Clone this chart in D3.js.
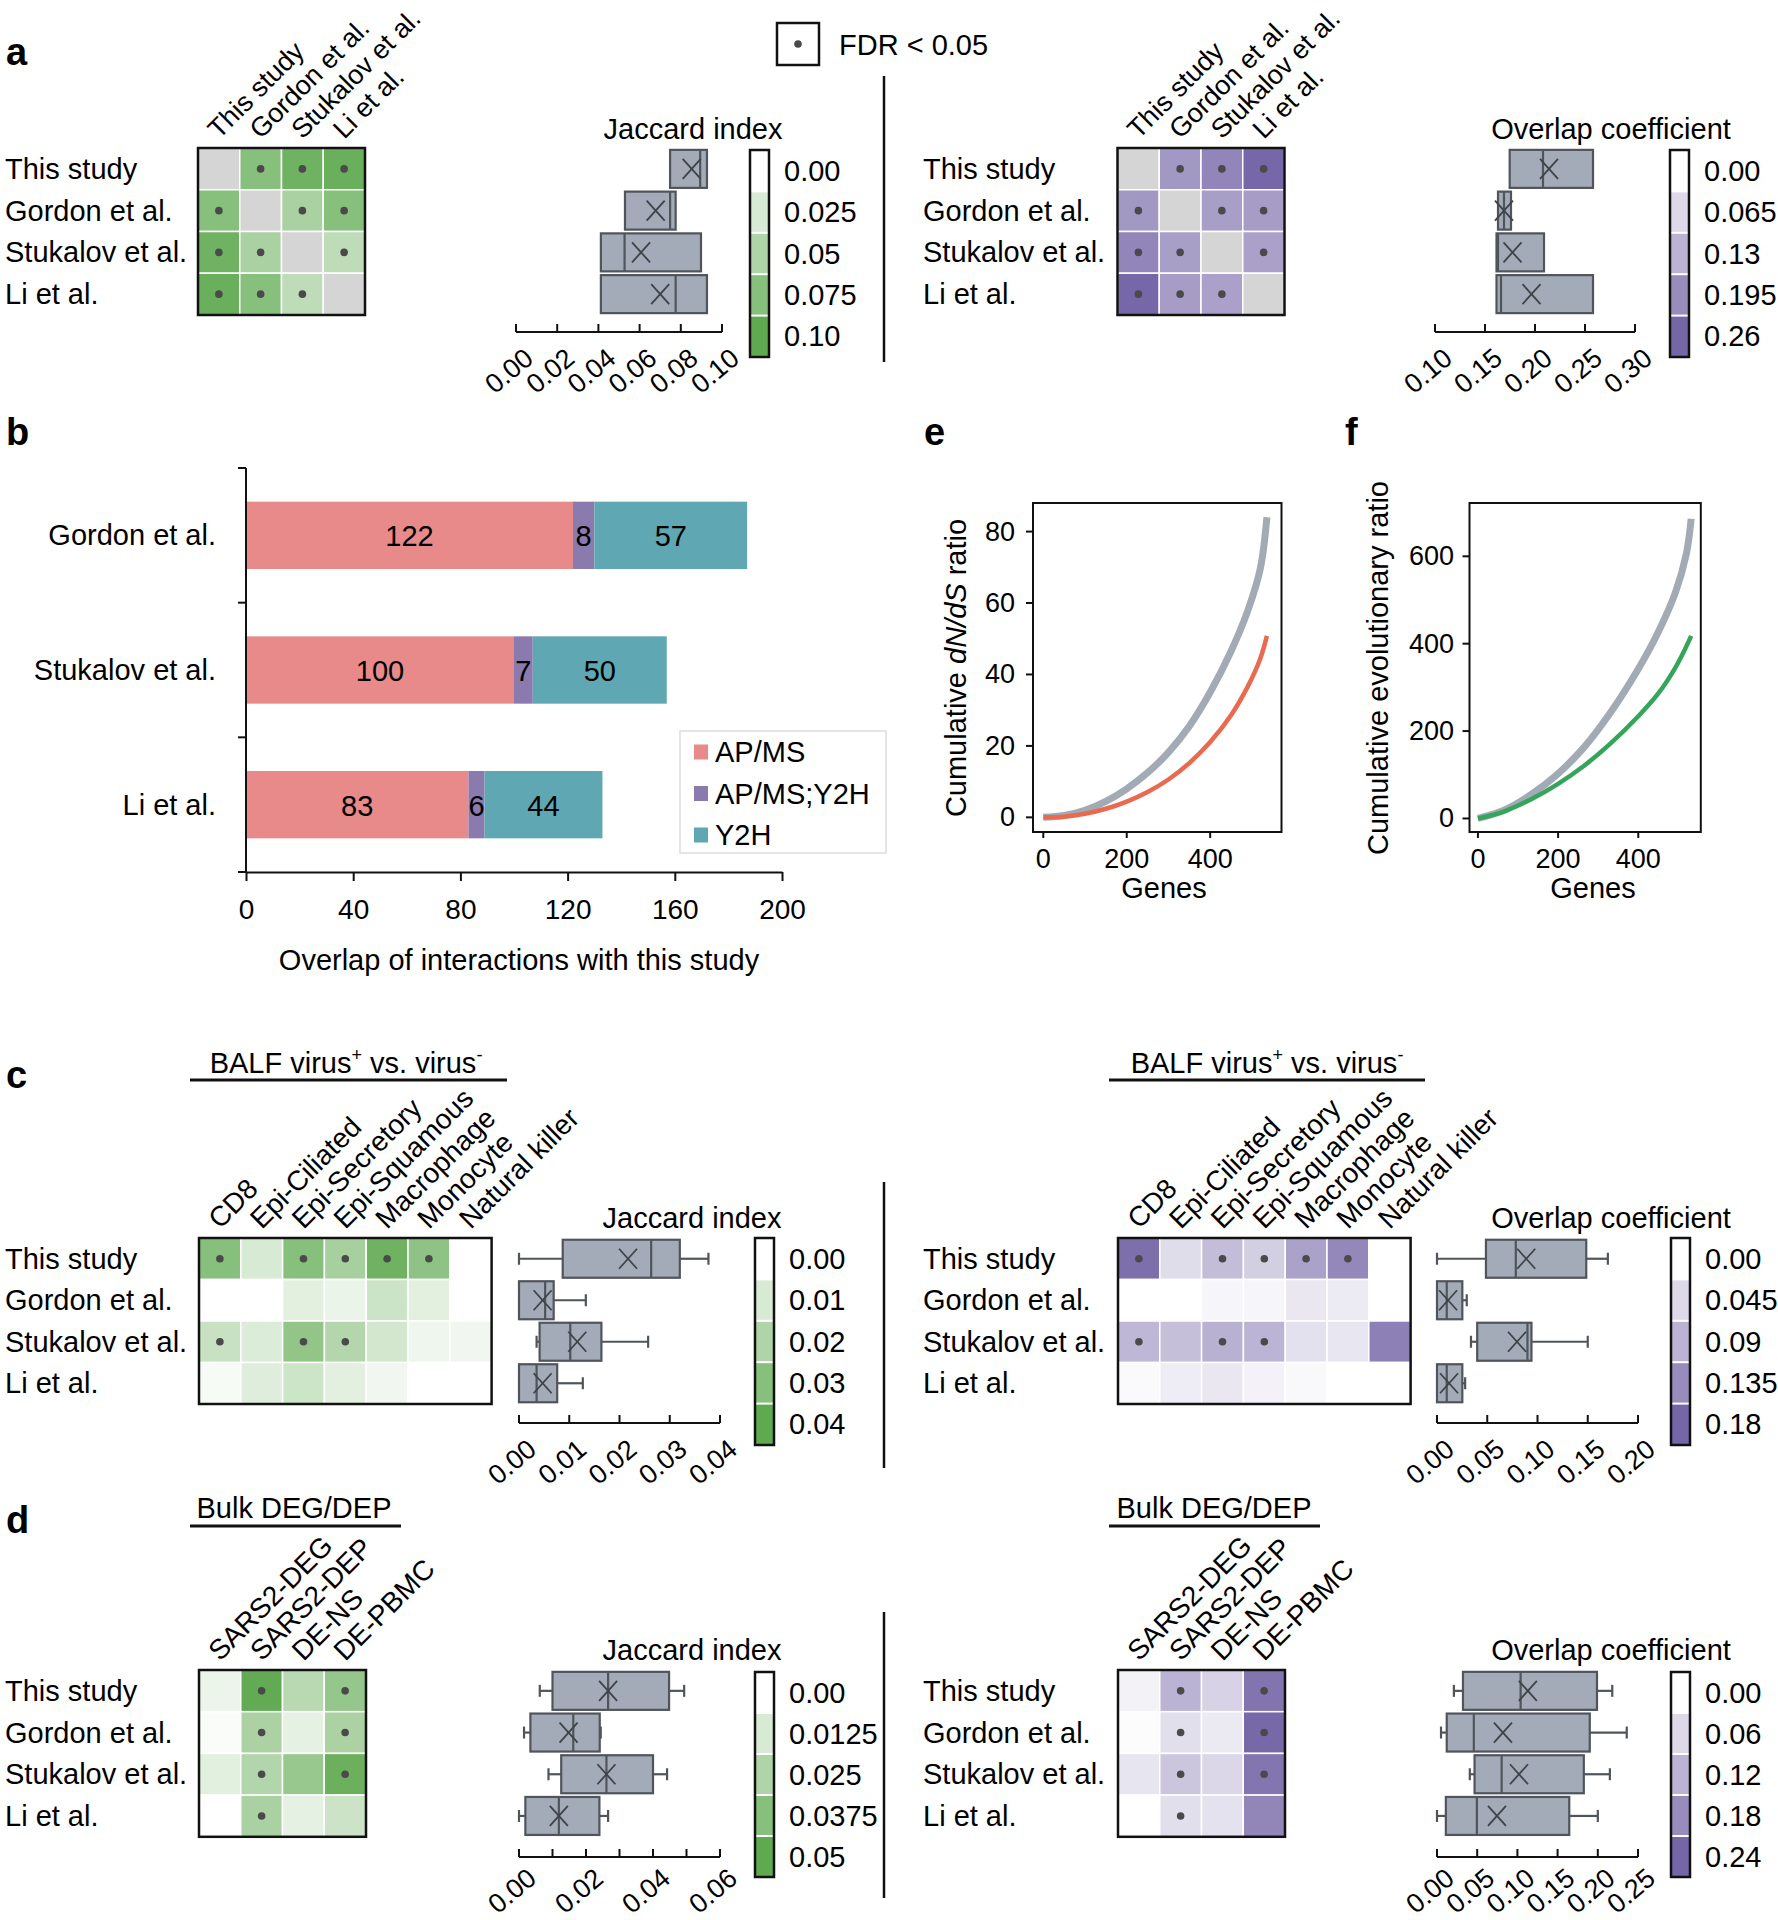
<!DOCTYPE html>
<html><head><meta charset="utf-8">
<script src="https://cdn.jsdelivr.net/npm/d3@7"></script>
<style>body{margin:0;background:#fff}</style>
</head><body><svg id="fig" width="1778" height="1920" style="background:#fff"></svg>
<script>
// ---------------- DATA ----------------
const studies = ["This study", "Gordon et al.", "Stukalov et al.", "Li et al."];
const cellTypes = ["CD8", "Epi-Ciliated", "Epi-Secretory", "Epi-Squamous", "Macrophage", "Monocyte", "Natural killer"];
const bulkSets = ["SARS2-DEG", "SARS2-DEP", "DE-NS", "DE-PBMC"];

// panel a heatmaps (null = diagonal)
const jaccardA = [[null, 0.075, 0.090, 0.093], [0.075, null, 0.053, 0.075], [0.090, 0.053, null, 0.041], [0.093, 0.075, 0.041, null]];
const overlapA = [[null, 0.175, 0.208, 0.258], [0.175, null, 0.163, 0.168], [0.208, 0.163, null, 0.161], [0.258, 0.168, 0.161, null]];
const sigA = [[1, 2, 3], [0, 2, 3], [0, 1, 3], [0, 1, 2]];
// box stats per row: [q1, median, q3, mean, whiskerLow, whiskerHigh]
const boxJaccardA = [[0.0748, 0.0894, 0.0927, 0.0853, 0.0748, 0.0927], [0.0529, 0.0748, 0.0775, 0.0678, 0.0529, 0.0775], [0.0412, 0.0527, 0.0898, 0.0607, 0.0412, 0.0898], [0.0412, 0.0775, 0.0927, 0.0700, 0.0412, 0.0927]];
const boxOverlapA = [[0.1747, 0.208, 0.258, 0.214, 0.1747, 0.258], [0.163, 0.169, 0.176, 0.169, 0.163, 0.176], [0.1615, 0.163, 0.209, 0.1775, 0.1615, 0.209], [0.1615, 0.166, 0.258, 0.1965, 0.1615, 0.258]];

// panel b
const bCats = ["Gordon et al.", "Stukalov et al.", "Li et al."];
const bKeys = ["AP/MS", "AP/MS;Y2H", "Y2H"];
const apms = [122, 100, 83];
const apmsY2h = [8, 7, 6];
const y2h = [57, 50, 44];
const bTicks = [0, 40, 80, 120, 160, 200];

// panel c
const jaccardC = [[0.030, 0.010, 0.030, 0.022, 0.036, 0.028, 0.000], [0.000, 0.000, 0.007, 0.005, 0.013, 0.007, 0.000], [0.014, 0.009, 0.027, 0.019, 0.011, 0.004, 0.0035], [0.002, 0.008, 0.0127, 0.007, 0.0035, 0.000, 0.000]];
const overlapC = [[0.170, 0.040, 0.078, 0.057, 0.110, 0.140, 0.000], [0.000, 0.000, 0.012, 0.012, 0.028, 0.025, 0.000], [0.085, 0.075, 0.092, 0.088, 0.035, 0.030, 0.150], [0.006, 0.022, 0.028, 0.015, 0.008, 0.000, 0.000]];
const sigC = [[0, 2, 3, 4, 5], [], [0, 2, 3], []];
const boxJaccardC = [[0.0087, 0.0263, 0.032, 0.0217, 0, 0.0377], [0, 0.0052, 0.0069, 0.0047, 0, 0.0133], [0.0041, 0.0102, 0.0164, 0.0116, 0.0035, 0.0257], [0, 0.0035, 0.0076, 0.0047, 0, 0.0127]];
const boxOverlapC = [[0.0487, 0.0784, 0.1485, 0.0888, 0, 0.170], [0, 0.0097, 0.0252, 0.011, 0, 0.0296], [0.040, 0.090, 0.094, 0.0796, 0.0338, 0.150], [0, 0.0097, 0.0252, 0.012, 0, 0.028]];

// panel d
const jaccardD = [[0.006, 0.049, 0.022, 0.033], [0.0015, 0.026, 0.008, 0.026], [0.009, 0.024, 0.032, 0.046], [0.000, 0.027, 0.008, 0.016]];
const overlapD = [[0.021, 0.120, 0.070, 0.218], [0.005, 0.050, 0.035, 0.236], [0.041, 0.090, 0.062, 0.215], [0.000, 0.050, 0.045, 0.190]];
const sigD = [[1, 3], [1, 3], [1, 3], [1]];
const boxJaccardD = [[0.010, 0.0266, 0.0448, 0.0266, 0.0062, 0.0493], [0.0034, 0.0162, 0.0241, 0.0148, 0.0015, 0.0244], [0.0126, 0.0261, 0.040, 0.0261, 0.0088, 0.0442], [0.0019, 0.0119, 0.024, 0.0119, 0, 0.0266]];
const boxOverlapD = [[0.0323, 0.104, 0.199, 0.113, 0.021, 0.218], [0.0121, 0.0458, 0.19, 0.082, 0.005, 0.236], [0.0467, 0.0804, 0.1826, 0.102, 0.0408, 0.215], [0.011, 0.0496, 0.1645, 0.0746, 0, 0.200]];

// colour bar labels
const cbJaccardA = ["0.00", "0.025", "0.05", "0.075", "0.10"];
const cbOverlapA = ["0.00", "0.065", "0.13", "0.195", "0.26"];
const cbJaccardC = ["0.00", "0.01", "0.02", "0.03", "0.04"];
const cbOverlapC = ["0.00", "0.045", "0.09", "0.135", "0.18"];
const cbJaccardD = ["0.00", "0.0125", "0.025", "0.0375", "0.05"];
const cbOverlapD = ["0.00", "0.06", "0.12", "0.18", "0.24"];

// box axis ticks
const ticksJaccardA = [0, 0.02, 0.04, 0.06, 0.08, 0.10];
const ticksOverlapA = [0.10, 0.15, 0.20, 0.25, 0.30];
const ticksJaccardC = [0, 0.01, 0.02, 0.03, 0.04];
const ticksOverlapC = [0, 0.05, 0.10, 0.15, 0.20];
const ticksJaccardD = [0, 0.01, 0.02, 0.03, 0.04, 0.05, 0.06];
const labelTicksJaccardD = [0, 0.02, 0.04, 0.06];
const ticksOverlapD = [0, 0.05, 0.10, 0.15, 0.20, 0.25];

// panels e, f
const eGenes = [0, 50, 100, 150, 200, 250, 300, 350, 400, 450, 490, 520, 536];
const eRandom = [0, 0.5, 2.0, 4.5, 8.0, 12.5, 18.2, 25.5, 35, 46.5, 57.8, 69.5, 84];
const eObserved = [0, 0.2, 1.0, 2.4, 4.4, 7.1, 10.6, 15.2, 21.1, 28.6, 36.6, 44.4, 50.8];
const fGenes = [0, 68, 133, 198, 264, 329, 400, 449, 493, 520, 532];
const fRandom = [0, 20, 55, 101, 162, 240, 342, 425, 518, 606, 686];
const fObserved = [0, 17, 44, 78, 120, 170, 234, 285, 346, 394, 418];
const eYTicks = [0, 20, 40, 60, 80];
const fYTicks = [0, 200, 400, 600];
const geneTicks = [0, 200, 400];

// ---------------- DRAWING ----------------
const svg = d3.select("#fig");
const FONT = '"Liberation Sans", Arial, Helvetica, sans-serif';
const FS = 29;
const GREEN = "#5fa950", PURPLE = "#7566a7";
const BOXFILL = "#a2abb7", BOXSTROKE = "#50555c";

function addText(g, x, y, s, o = {}) {
  const t = g.append("text").attr("x", x).attr("y", y).text(s)
    .attr("font-size", o.size || FS).attr("font-family", FONT)
    .attr("text-anchor", o.anchor || "start")
    .attr("dominant-baseline", o.base || "central")
    .attr("fill", o.fill || "#000");
  if (o.weight) t.attr("font-weight", o.weight);
  if (o.transform) t.attr("transform", o.transform);
  return t;
}

function drawHeatPanel(c) {
  const g = svg.append("g");
  const nR = c.values.length, nC = c.values[0].length;
  const xH = d3.scaleBand(d3.range(nC), [c.hx, c.hx + c.cw * nC]);
  const yH = d3.scaleBand(d3.range(nR), [c.hy, c.hy + c.ch * nR]);
  const col = d3.scaleLinear([0, c.cmax], ["#ffffff", c.cend]).clamp(true);
  c.values.forEach((row, r) => row.forEach((v, k) => {
    g.append("rect").attr("x", xH(k)).attr("y", yH(r))
      .attr("width", xH.bandwidth()).attr("height", yH.bandwidth())
      .attr("fill", v === null ? "#d5d5d5" : col(v))
      .attr("stroke", "#fff").attr("stroke-width", 1.5);
  }));
  c.sig.forEach((cols, r) => cols.forEach(k => {
    g.append("circle").attr("cx", xH(k) + xH.bandwidth() / 2).attr("cy", yH(r) + yH.bandwidth() / 2)
      .attr("r", 3.8).attr("fill", "#4a4a4a");
  }));
  g.append("rect").attr("x", c.hx).attr("y", c.hy).attr("width", c.cw * nC).attr("height", c.ch * nR)
    .attr("fill", "none").attr("stroke", "#111").attr("stroke-width", 2.5);
  studies.forEach((s, r) => addText(g, c.rowLabelX, yH(r) + yH.bandwidth() / 2, s));
  c.cols.forEach((s, k) => addText(g, 0, 0, s, {
    size: c.colSize || 28, transform: `translate(${xH(k) + xH.bandwidth() / 2},${c.hy - 8}) rotate(-45)`, base: "alphabetic"
  }));
  // box plots
  const xB = d3.scaleLinear(c.bDomain, c.bRange);
  const bh = 38;
  c.box.forEach((st, r) => {
    const [q1, med, q3, mean, lo, hi] = st;
    const cy = yH(r) + yH.bandwidth() / 2;
    const ws = { stroke: BOXSTROKE, "stroke-width": 2.2 };
    function line(x1, y1, x2, y2, s) {
      const l = g.append("line").attr("x1", x1).attr("y1", y1).attr("x2", x2).attr("y2", y2);
      Object.entries(s).forEach(([k, v]) => l.attr(k, v));
    }
    if (lo < q1 - 1e-9) { line(xB(lo), cy, xB(q1), cy, ws); line(xB(lo), cy - 6, xB(lo), cy + 6, ws); }
    if (hi > q3 + 1e-9) { line(xB(q3), cy, xB(hi), cy, ws); line(xB(hi), cy - 6, xB(hi), cy + 6, ws); }
    g.append("rect").attr("x", xB(q1)).attr("y", cy - bh / 2).attr("width", Math.max(2, xB(q3) - xB(q1))).attr("height", bh)
      .attr("fill", BOXFILL).attr("stroke", BOXSTROKE).attr("stroke-width", 2.2);
    line(xB(med), cy - bh / 2, xB(med), cy + bh / 2, ws);
    const xs = { stroke: "#3f4348", "stroke-width": 1.8 };
    line(xB(mean) - 9, cy - 10, xB(mean) + 9, cy + 10, xs);
    line(xB(mean) - 9, cy + 10, xB(mean) + 9, cy - 10, xs);
  });
  const ax = g.append("g");
  ax.append("line").attr("x1", xB(c.ticks[0])).attr("x2", xB(c.ticks[c.ticks.length - 1]))
    .attr("y1", c.axisY).attr("y2", c.axisY).attr("stroke", "#111").attr("stroke-width", 2);
  c.ticks.forEach(t => ax.append("line").attr("x1", xB(t)).attr("x2", xB(t)).attr("y1", c.axisY).attr("y2", c.axisY - 8)
    .attr("stroke", "#111").attr("stroke-width", 2));
  (c.labelTicks || c.ticks).forEach(t => addText(ax, 0, 0, d3.format(".2f")(t), {
    size: 27, anchor: "end", base: "alphabetic",
    transform: `translate(${xB(t) + 19},${c.axisY + (c.labelDy || 29)}) rotate(-40)`
  }));
  addText(g, c.titleX, c.titleY, c.title, { anchor: "middle" });
  // colour bar
  const cb = c.cbar, bhh = cb.h / 5;
  const cbg = g.append("g");
  cb.labels.forEach((lab, i) => {
    cbg.append("rect").attr("x", cb.x).attr("y", cb.y + i * bhh).attr("width", cb.w).attr("height", bhh)
      .attr("fill", col(i * c.cmax / 4));
    if (i > 0) cbg.append("line").attr("x1", cb.x).attr("x2", cb.x + cb.w).attr("y1", cb.y + i * bhh).attr("y2", cb.y + i * bhh)
      .attr("stroke", "#fff").attr("stroke-width", 2);
    addText(cbg, cb.x + cb.w + 15, cb.y + (i + 0.5) * bhh, lab);
  });
  cbg.append("rect").attr("x", cb.x).attr("y", cb.y).attr("width", cb.w).attr("height", cb.h)
    .attr("fill", "none").attr("stroke", "#111").attr("stroke-width", 2.5);
  if (c.sup) {
    const t = addText(g, c.sup.x, c.sup.y, "", { anchor: "middle" });
    c.sup.parts.forEach(p => {
      const ts = t.append("tspan").text(p.t);
      if (p.sup) ts.attr("font-size", 18).attr("baseline-shift", "45%");
    });
    g.append("line").attr("x1", c.sup.x1).attr("x2", c.sup.x2).attr("y1", c.sup.ly).attr("y2", c.sup.ly)
      .attr("stroke", "#111").attr("stroke-width", 3);
  }
}

const balf = [{ t: "BALF virus" }, { t: "+", sup: true }, { t: " vs. virus" }, { t: "-", sup: true }];

// Panel a
drawHeatPanel({ values: jaccardA, sig: sigA, cols: studies, colSize: 27, hx: 198, hy: 148, cw: 41.75, ch: 41.75, cmax: 0.10, cend: GREEN,
  rowLabelX: 5, box: boxJaccardA, bDomain: [0, 0.10], bRange: [516, 722], ticks: ticksJaccardA, axisY: 332,
  title: "Jaccard index", titleX: 693, titleY: 129, cbar: { x: 750, y: 150, w: 19, h: 207, labels: cbJaccardA } });
drawHeatPanel({ values: overlapA, sig: sigA, cols: studies, colSize: 27, hx: 1117.5, hy: 148, cw: 41.75, ch: 41.75, cmax: 0.26, cend: PURPLE,
  rowLabelX: 923, box: boxOverlapA, bDomain: [0.10, 0.30], bRange: [1435, 1635], ticks: ticksOverlapA, axisY: 332,
  title: "Overlap coefficient", titleX: 1611, titleY: 129, cbar: { x: 1670, y: 150, w: 19, h: 207, labels: cbOverlapA } });

// Panel c
drawHeatPanel({ values: jaccardC, sig: sigC, cols: cellTypes, hx: 199, hy: 1238, cw: 41.8, ch: 41.5, cmax: 0.04, cend: GREEN,
  rowLabelX: 5, box: boxJaccardC, bDomain: [0, 0.04], bRange: [519, 720], ticks: ticksJaccardC, axisY: 1423,
  title: "Jaccard index", titleX: 692, titleY: 1218, cbar: { x: 755, y: 1238, w: 19, h: 207, labels: cbJaccardC },
  sup: { x: 346, y: 1063, parts: balf, x1: 190, x2: 507, ly: 1080 } });
drawHeatPanel({ values: overlapC, sig: sigC, cols: cellTypes, hx: 1118, hy: 1238, cw: 41.8, ch: 41.5, cmax: 0.18, cend: PURPLE,
  rowLabelX: 923, box: boxOverlapC, bDomain: [0, 0.20], bRange: [1437, 1638], ticks: ticksOverlapC, axisY: 1423,
  title: "Overlap coefficient", titleX: 1611, titleY: 1218, cbar: { x: 1671, y: 1238, w: 19, h: 207, labels: cbOverlapC },
  sup: { x: 1267, y: 1063, parts: balf, x1: 1109, x2: 1425, ly: 1080 } });

// Panel d
const bulkTitle = [{ t: "Bulk DEG/DEP" }];
drawHeatPanel({ values: jaccardD, sig: sigD, cols: bulkSets, hx: 199, hy: 1670, cw: 41.75, ch: 41.7, cmax: 0.05, cend: GREEN,
  rowLabelX: 5, box: boxJaccardD, bDomain: [0, 0.06], bRange: [519, 720], ticks: ticksJaccardD, labelTicks: labelTicksJaccardD, axisY: 1857, labelDy: 24,
  title: "Jaccard index", titleX: 692, titleY: 1650, cbar: { x: 755, y: 1672, w: 19, h: 205, labels: cbJaccardD },
  sup: { x: 294, y: 1508, parts: bulkTitle, x1: 190, x2: 401, ly: 1526 } });
drawHeatPanel({ values: overlapD, sig: sigD, cols: bulkSets, hx: 1118, hy: 1670, cw: 41.75, ch: 41.7, cmax: 0.24, cend: PURPLE,
  rowLabelX: 923, box: boxOverlapD, bDomain: [0, 0.25], bRange: [1437, 1638], ticks: ticksOverlapD, axisY: 1857, labelDy: 24,
  title: "Overlap coefficient", titleX: 1611, titleY: 1650, cbar: { x: 1671, y: 1672, w: 19, h: 205, labels: cbOverlapD },
  sup: { x: 1214, y: 1508, parts: bulkTitle, x1: 1109, x2: 1320, ly: 1526 } });

// FDR legend + separators
const lg = svg.append("g");
lg.append("rect").attr("x", 777).attr("y", 23).attr("width", 42).attr("height", 42).attr("fill", "none").attr("stroke", "#111").attr("stroke-width", 2.5);
lg.append("circle").attr("cx", 798).attr("cy", 44).attr("r", 3.8).attr("fill", "#4a4a4a");
addText(lg, 839, 45, "FDR < 0.05");
[[76, 362], [1182, 1468], [1612, 1898]].forEach(([a, b]) =>
  lg.append("line").attr("x1", 884).attr("x2", 884).attr("y1", a).attr("y2", b).attr("stroke", "#111").attr("stroke-width", 2.5));

// Panel labels
[["a", 6, 65], ["b", 6, 445], ["c", 6, 1088], ["d", 6, 1533], ["e", 924, 445], ["f", 1345, 445]].forEach(([s, x, y]) =>
  addText(svg, x, y, s, { size: 38, weight: "bold", base: "alphabetic" }));

// Panel b
(function () {
  const g = svg.append("g");
  const xB = d3.scaleLinear([0, 200], [246, 782]);
  const yB = d3.scaleBand(bCats, [468, 872]).paddingInner(0.5).paddingOuter(0.25);
  const rows = bCats.map((c, i) => ({ cat: c, "AP/MS": apms[i], "AP/MS;Y2H": apmsY2h[i], "Y2H": y2h[i] }));
  const stack = d3.stack().keys(bKeys)(rows);
  const colors = { "AP/MS": "#e8898a", "AP/MS;Y2H": "#8b7aae", "Y2H": "#5fa7b2" };
  stack.forEach(layer => layer.forEach(d => {
    g.append("rect").attr("x", xB(d[0])).attr("y", yB(d.data.cat)).attr("width", xB(d[1]) - xB(d[0]))
      .attr("height", yB.bandwidth()).attr("fill", colors[layer.key]);
    addText(g, (xB(d[0]) + xB(d[1])) / 2, yB(d.data.cat) + yB.bandwidth() / 2 + 1, d.data[layer.key], { anchor: "middle" });
  }));
  // axes
  g.append("line").attr("x1", 246).attr("x2", 246).attr("y1", 468).attr("y2", 872).attr("stroke", "#111").attr("stroke-width", 2);
  d3.range(bCats.length + 1).forEach(i => {
    const y = 468 + i * yB.step();
    g.append("line").attr("x1", 238).attr("x2", 246).attr("y1", y).attr("y2", y).attr("stroke", "#111").attr("stroke-width", 2);
  });
  const xa = g.append("g").attr("transform", "translate(0,872)")
    .call(d3.axisBottom(xB).tickValues(bTicks).tickSize(9).tickSizeOuter(0).tickFormat(d3.format("d")));
  xa.select(".domain").attr("stroke", "#111").attr("stroke-width", 2);
  xa.selectAll(".tick line").attr("stroke", "#111").attr("stroke-width", 2);
  xa.selectAll(".tick text").attr("font-size", 28).attr("font-family", FONT).attr("fill", "#000").attr("y", 12).attr("dy", "1.25em");
  bCats.forEach(c => addText(g, 216, yB(c) + yB.bandwidth() / 2, c, { anchor: "end" }));
  addText(g, 519, 960, "Overlap of interactions with this study", { anchor: "middle" });
  // legend
  g.append("rect").attr("x", 680).attr("y", 731).attr("width", 206).attr("height", 122).attr("fill", "#fff")
    .attr("stroke", "#dcdcdc").attr("stroke-width", 1.5);
  bKeys.forEach((k, i) => {
    const cy = 752 + i * 41.5;
    g.append("rect").attr("x", 694).attr("y", cy - 7.5).attr("width", 14).attr("height", 15).attr("fill", colors[k]);
    addText(g, 715, cy, k);
  });
})();

// Panels e, f
function drawCurvePanel(c) {
  const g = svg.append("g");
  const x = d3.scaleLinear(c.xDom, c.xRange), y = d3.scaleLinear(c.yDom, c.yRange);
  const x0 = c.xRange[0], x1 = c.xRange[1], y0 = c.yRange[0], y1 = c.yRange[1];
  c.yTicks.forEach(t => {
    g.append("line").attr("x1", x0 - 7).attr("x2", x0).attr("y1", y(t)).attr("y2", y(t)).attr("stroke", "#111").attr("stroke-width", 2);
    addText(g, c.yLabelX, y(t), t, { anchor: "end", size: 27 });
  });
  geneTicks.forEach(t => {
    g.append("line").attr("x1", x(t)).attr("x2", x(t)).attr("y1", y0).attr("y2", y0 + 6).attr("stroke", "#111").attr("stroke-width", 2);
    addText(g, x(t), 859, t, { anchor: "middle", size: 27 });
  });
  addText(g, c.genesX, 888, "Genes", { anchor: "middle" });
  const yt = addText(g, 0, 0, "", { anchor: "middle", transform: `translate(${c.ytX},668) rotate(-90)` });
  c.yTitle.forEach(p => { const ts = yt.append("tspan").text(p.t); if (p.it) ts.attr("font-style", "italic"); });
  const line = d3.line().x((d, i) => x(c.genes[i])).y(d => y(d)).curve(d3.curveCatmullRom.alpha(0.5));
  g.append("path").attr("d", line(c.random)).attr("fill", "none").attr("stroke", "#a1aab5").attr("stroke-width", 7).attr("stroke-linecap", "butt");
  g.append("path").attr("d", line(c.observed)).attr("fill", "none").attr("stroke", c.obsColor).attr("stroke-width", 4.5);
  g.append("rect").attr("x", x0).attr("y", y1).attr("width", x1 - x0).attr("height", y0 - y1)
    .attr("fill", "none").attr("stroke", "#111").attr("stroke-width", 2);
}
drawCurvePanel({ xDom: [-24.7, 571], xRange: [1033, 1281.5], yDom: [-4.1, 88], yRange: [832, 503], yTicks: eYTicks,
  yLabelX: 1015, genesX: 1164, ytX: 956, genes: eGenes, random: eRandom, observed: eObserved, obsColor: "#ea6a50",
  yTitle: [{ t: "Cumulative " }, { t: "dN/dS", it: true }, { t: " ratio" }] });
drawCurvePanel({ xDom: [-21, 556], xRange: [1469.5, 1700.8], yDom: [-31, 722], yRange: [832, 503], yTicks: fYTicks,
  yLabelX: 1454, genesX: 1593, ytX: 1378, genes: fGenes, random: fRandom, observed: fObserved, obsColor: "#35a55c",
  yTitle: [{ t: "Cumulative evolutionary ratio" }] });
</script></body></html>
